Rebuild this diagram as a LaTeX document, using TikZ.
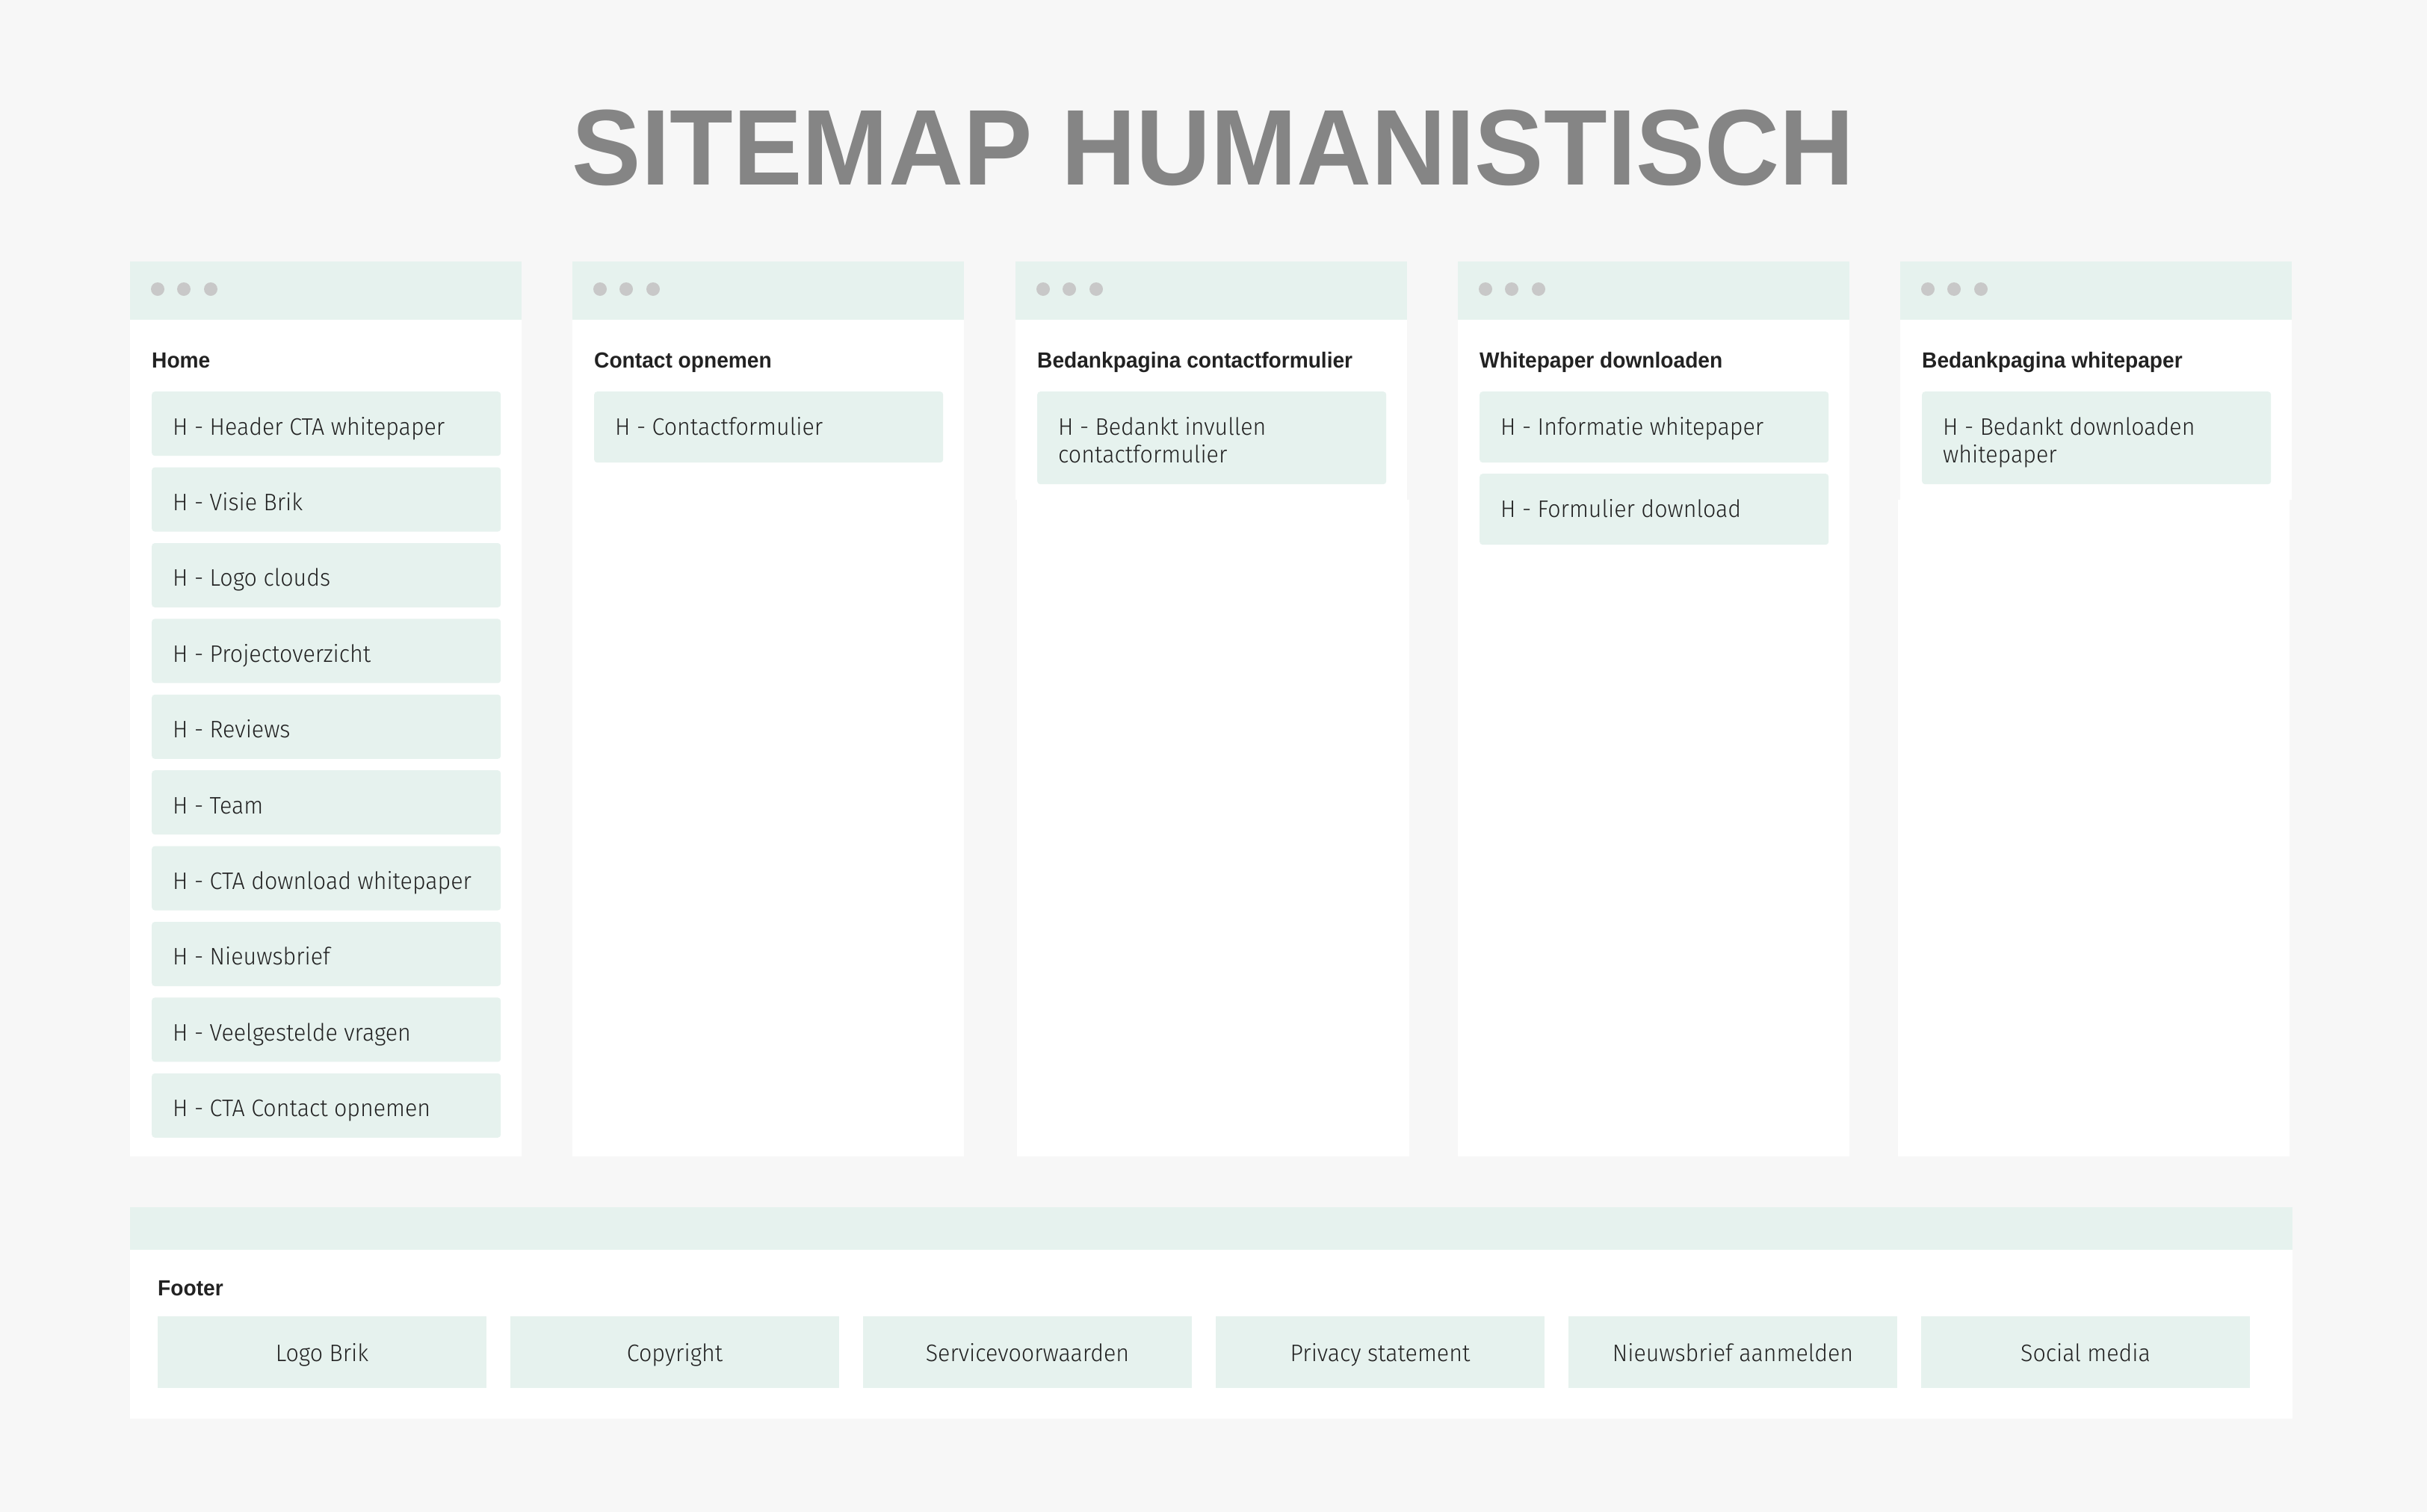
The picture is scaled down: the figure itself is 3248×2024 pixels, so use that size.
\documentclass[tikz,border=0pt]{standalone}
\usepackage{fontspec}
\setmainfont{Liberation Sans}
\newfontfamily\lightfont{Fira Sans Light}[FakeStretch=0.95]
\definecolor{bgc}{HTML}{F7F7F7}
\definecolor{mint}{HTML}{E6F2EE}
\definecolor{dotc}{HTML}{C8C8C8}
\definecolor{ink}{HTML}{222222}
\definecolor{titlec}{HTML}{858585}
\tikzset{
  panelbody/.style={fill=white, draw=none},
  band/.style={fill=mint, draw=none},
  windot/.style={circle, fill=dotc, draw=none, minimum size=18pt, inner sep=0pt},
  itembox/.style={fill=mint, draw=none, rounded corners=4pt, anchor=north west, inner sep=0pt, minimum width=467pt},
  footbox/.style={fill=mint, draw=none, anchor=north west, inner sep=0pt, minimum width=440pt, minimum height=96pt},
  itemtext/.style={anchor=base west, inner sep=0pt, text=ink, font=\lightfont\fontsize{32}{38}\selectfont},
  foottext/.style={anchor=base, inner sep=0pt, text=ink, font=\lightfont\fontsize{32}{38}\selectfont},
  labeltext/.style={anchor=base west, inner sep=0pt, text=ink, font=\bfseries\fontsize{29.3}{35}\selectfont},
  titletext/.style={anchor=base, inner sep=0pt, text=titlec, font=\bfseries\fontsize{144}{160}\selectfont},
}
\begin{document}
\begin{tikzpicture}[x=1pt, y=-1pt]
% page background
\fill[bgc] (0,0) rectangle (3248,2024);

% title
\node[titletext] (title) at (1624,247) {\scalebox{0.962}[1]{SITEMAP HUMANISTISCH}};

% page windows: header band, body, three dots and page name
\foreach \px/\nm/\lbl in {174/home/Home, 766/contact/Contact opnemen, 1359/thanksc/Bedankpagina contactformulier, 1951/white/Whitepaper downloaden, 2543/thanksw/Bedankpagina whitepaper}{
  \fill[band] (\px,350) rectangle ++(524,78);
  \fill[panelbody] (\px,428) rectangle ++(524,1120);
  \node[windot] (\nm-d1) at (\px+37,387) {};
  \node[windot] (\nm-d2) at (\px+72,387) {};
  \node[windot] (\nm-d3) at (\px+108,387) {};
  \node[labeltext] (\nm-label) at (\px+29,492) {\scalebox{0.96}[1]{\lbl}};
}
% slightly offset lower body parts of two windows
\fill[bgc] (1359,669) rectangle ++(2,879);
\fill[panelbody] (1883,669) rectangle ++(3,879);
\fill[bgc] (3064,669) rectangle ++(4,879);
\fill[panelbody] (2540,669) rectangle ++(3,879);

% Home sections
\foreach \t [count=\i from 0] in {H - Header CTA whitepaper, H - Visie Brik, H - Logo clouds, H - Projectoverzicht, H - Reviews, H - Team, H - CTA download whitepaper, H - Nieuwsbrief, H - Veelgestelde vragen, H - CTA Contact opnemen}{
  \pgfmathsetmacro\tp{524+101.4*\i}
  \node[itembox, minimum height=86pt] (home-b\i) at (203,\tp) {};
  \node[itemtext] (home-t\i) at (231,\tp+58) {\t};
}

% Contact opnemen
\node[itembox, minimum height=95pt] (contact-b0) at (795,524) {};
\node[itemtext] (contact-t0) at (823,582) {H - Contactformulier};

% Bedankpagina contactformulier
\node[itembox, minimum height=124pt] (thanksc-b0) at (1388,524) {};
\node[itemtext] (thanksc-t0a) at (1416,582) {H - Bedankt invullen};
\node[itemtext] (thanksc-t0b) at (1416,619) {contactformulier};

% Whitepaper downloaden
\node[itembox, minimum height=95pt] (white-b0) at (1980,524) {};
\node[itemtext] (white-t0) at (2008,582) {H - Informatie whitepaper};
\node[itembox, minimum height=95pt] (white-b1) at (1980,634) {};
\node[itemtext] (white-t1) at (2008,692) {H - Formulier download};

% Bedankpagina whitepaper
\node[itembox, minimum height=124pt] (thanksw-b0) at (2572,524) {};
\node[itemtext] (thanksw-t0a) at (2600,582) {H - Bedankt downloaden};
\node[itemtext] (thanksw-t0b) at (2600,619) {whitepaper};

% footer
\fill[band] (174,1616) rectangle (3068,1673);
\fill[panelbody] (174,1673) rectangle (3068,1899);
\node[labeltext] (footer-label) at (211,1734) {\scalebox{0.96}[1]{Footer}};
\foreach \t [count=\i from 0] in {Logo Brik, Copyright, Servicevoorwaarden, Privacy statement, Nieuwsbrief aanmelden, Social media}{
  \pgfmathsetmacro\lx{211+472*\i}
  \node[footbox] (foot-b\i) at (\lx,1762) {};
  \node[foottext] (foot-t\i) at (\lx+220,1822) {\t};
}
\end{tikzpicture}
\end{document}
